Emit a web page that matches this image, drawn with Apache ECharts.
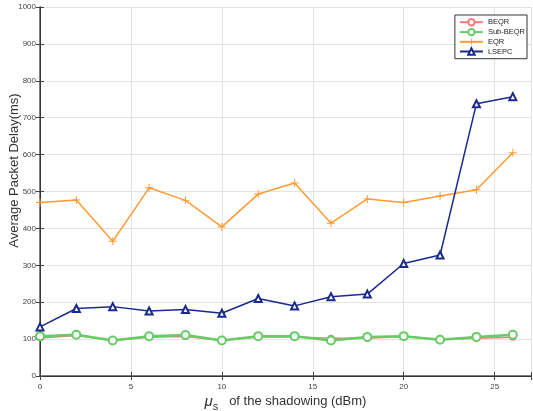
<!DOCTYPE html>
<html>
<head>
    <meta charset="utf-8">
    <title>Average Packet Delay</title>
    <script src="https://cdn.jsdelivr.net/npm/echarts@6/dist/echarts.min.js"></script>
    <style>
        body { margin: 0; background: #fff; }
    </style>
</head>
<body>
    <div id="main" style="width: 533px;height:411px;"></div>

    <script type="text/javascript">
        // shadowing mean values (dBm)
        var mu = [0, 2, 4, 6, 8, 10, 12, 14, 16, 18, 20, 22, 24, 26];

        // average packet delay (ms)
        var beqr = [103, 110, 97, 105, 107, 97, 106, 106, 102, 102, 107, 99, 102, 105];
        var subBeqr = [108, 112, 96, 108, 111, 96, 108, 108, 96, 106, 108, 98, 106, 112];
        var eqr = [470, 477, 365, 510, 476, 404, 493, 523, 414, 480, 470, 488, 505, 605];
        var lsepc = [133, 183, 188, 176, 180, 170, 210, 190, 215, 222, 305, 328, 738, 757];

        var names = ['BEQR', 'Sub-BEQR', 'EQR', 'LSEPC'];

        function pairs(ys) {
            return ys.map(function (y, i) { return [mu[i], y]; });
        }

        var plusPath = 'path://M4.4,0h1.2v4.4h4.4v1.2h-4.4v4.4h-1.2v-4.4h-4.4v-1.2h4.4z';
        var font = 'Liberation Sans, Arial, sans-serif';

        var myChart = echarts.init(document.getElementById('main'));

        var option = {
            animation: false,
            backgroundColor: '#fff',
            textStyle: { fontFamily: font },
            grid: { left: 40, right: 2, top: 7, bottom: 35, outerBoundsMode: 'none', containLabel: false },
            legend: {
                data: names,
                orient: 'vertical',
                right: 6,
                top: 15,
                backgroundColor: '#fff',
                borderColor: '#333',
                borderWidth: 1,
                borderRadius: 0,
                padding: [3, 2, 3, 4],
                itemWidth: 23,
                itemHeight: 8,
                itemGap: 1.5,
                textStyle: { fontSize: 7.5, color: '#222', fontFamily: font }
            },
            xAxis: [{
                type: 'value',
                min: 0,
                max: 27,
                interval: 5,
                name: '{mu|μ}{sub|s}   of the shadowing (dBm)',
                nameLocation: 'middle',
                nameGap: 15,
                nameMoveOverlap: false,
                nameTextStyle: {
                    fontSize: 13,
                    color: '#333',
                    verticalAlign: 'top',
                    rich: {
                        mu: { fontSize: 15, fontStyle: 'italic', color: '#333', fontFamily: font },
                        sub: { fontSize: 11, color: '#333', padding: [10, 0, 0, 0], fontFamily: font },
                    }
                },
                axisLine: { onZero: false, lineStyle: { color: '#555', width: 1.5 } },
                axisTick: { inside: true, length: 4, lineStyle: { color: '#444' } },
                axisLabel: {
                    fontSize: 8, color: '#444', margin: 7,
                    formatter: function (v) { return v % 5 === 0 ? String(v) : ''; }
                },
                splitLine: { lineStyle: { color: '#e3e3e3', width: 1 } }
            }, {
                type: 'value',
                position: 'top',
                min: 0,
                max: 27,
                interval: 5,
                axisLine: { show: true, lineStyle: { color: '#333', width: 1 } },
                axisTick: { show: true, inside: true, length: 4, lineStyle: { color: '#444' } },
                axisLabel: { show: false },
                splitLine: { show: false }
            }],
            yAxis: [{
                type: 'value',
                min: 0,
                max: 1000,
                interval: 100,
                name: 'Average Packet Delay(ms)',
                nameLocation: 'middle',
                nameGap: 19,
                nameMoveOverlap: false,
                nameTextStyle: { fontSize: 13, color: '#333', padding: [0, 0, 0, 42] },
                axisLine: { show: true, lineStyle: { color: '#555', width: 1.5 } },
                axisTick: { inside: true, length: 4, lineStyle: { color: '#444' } },
                axisLabel: { fontSize: 8, color: '#444', margin: 4, formatter: function (v) { return String(v); } },
                splitLine: { lineStyle: { color: '#e3e3e3', width: 1 } }
            }, {
                type: 'value',
                position: 'right',
                min: 0,
                max: 1000,
                interval: 100,
                axisLine: { show: true, lineStyle: { color: '#333', width: 1 } },
                axisTick: { show: true, inside: true, length: 4, lineStyle: { color: '#444' } },
                axisLabel: { show: false },
                splitLine: { show: false }
            }],
            series: [{
                name: 'BEQR',
                type: 'line',
                data: pairs(beqr),
                symbol: 'emptyCircle',
                symbolSize: 5,
                color: '#f47a7a',
                lineStyle: { width: 1.5, color: '#f47a7a' },
                itemStyle: { color: '#f47a7a', borderWidth: 1.5 }
            }, {
                name: 'Sub-BEQR',
                type: 'line',
                data: pairs(subBeqr),
                symbol: 'emptyCircle',
                symbolSize: 8,
                color: '#66cc66',
                lineStyle: { width: 2.5, color: '#66cc66' },
                itemStyle: { color: '#66cc66', borderWidth: 2 }
            }, {
                name: 'EQR',
                type: 'line',
                data: pairs(eqr),
                symbol: plusPath,
                symbolSize: 8,
                color: '#ff9933',
                lineStyle: { width: 1.5, color: '#ff9933' },
                itemStyle: { color: '#ff9933' }
            }, {
                name: 'LSEPC',
                type: 'line',
                data: pairs(lsepc),
                symbol: 'emptyTriangle',
                symbolSize: 7,
                color: '#1a2a8c',
                lineStyle: { width: 1.5, color: '#1a2a8c' },
                itemStyle: { color: '#1a2a8c', borderColor: '#1a2a8c', borderWidth: 1.5 }
            }]
        };

        myChart.setOption(option);
    </script>
</body>
</html>
